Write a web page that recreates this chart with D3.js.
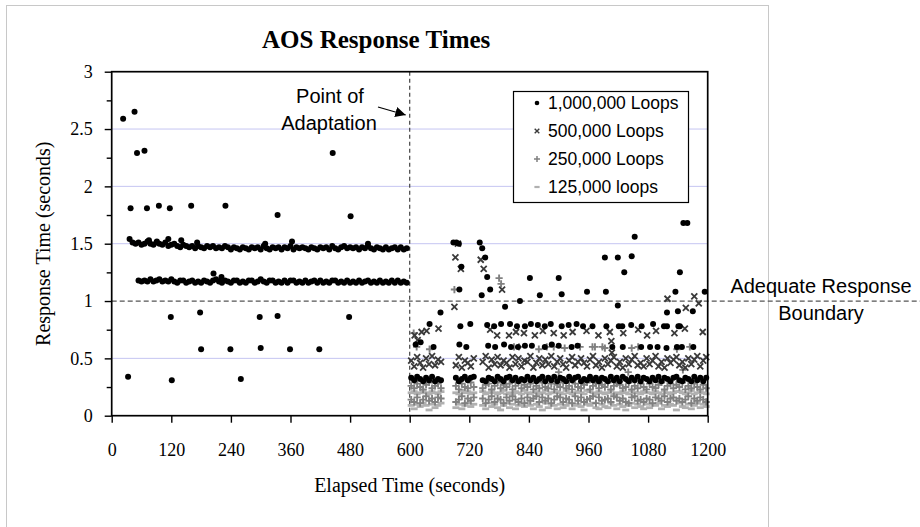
<!DOCTYPE html>
<html>
<head>
<meta charset="utf-8">
<script src="https://cdnjs.cloudflare.com/ajax/libs/d3/7.8.5/d3.min.js"></script>
<style>
  body { margin: 0; background: #fff; }
  .serif { font-family: "Liberation Serif", "Times New Roman", serif; }
  .sans { font-family: "Liberation Sans", Arial, sans-serif; }
</style>
</head>
<body>
<svg id="chart"></svg>
<script>
/** DATA **/
var xTicks = [0, 120, 240, 360, 480, 600, 720, 840, 960, 1080, 1200];
var yTicks = [0, 0.5, 1, 1.5, 2, 2.5, 3];
var yMinorTicks = [0.25, 0.75, 1.25, 1.75, 2.25, 2.75];
var yGrid = [0.5, 1.5, 2, 2.5];
var adaptationTime = 600;
var adequateResponse = 1;
var seriesNames = ["1,000,000 Loops", "500,000 Loops", "250,000 Loops", "125,000 loops"];

// response times were logged every few seconds
var sampleStep = 6;

// 1,000,000 loops before adaptation (two clients)
var loops1mUpperStart = 36;
var loops1mUpper = [
  1.54,1.51,1.50,1.51,1.49,1.50,1.52,1.50,1.49,1.51,
  1.50,1.49,1.51,1.48,1.49,1.50,1.48,1.47,1.49,1.48,
  1.47,1.48,1.46,1.48,1.47,1.46,1.48,1.47,1.48,1.46,
  1.47,1.46,1.48,1.47,1.45,1.47,1.46,1.45,1.47,1.46,
  1.45,1.47,1.46,1.47,1.45,1.48,1.46,1.45,1.47,1.46,
  1.47,1.45,1.47,1.46,1.48,1.45,1.47,1.46,1.47,1.46,
  1.45,1.47,1.46,1.45,1.47,1.46,1.47,1.45,1.48,1.46,
  1.45,1.47,1.48,1.46,1.47,1.46,1.47,1.45,1.47,1.46,
  1.48,1.46,1.45,1.47,1.46,1.45,1.47,1.45,1.46,1.47,
  1.45,1.47,1.45,1.46];
var loops1mLowerStart = 54;
var loops1mLower = [
  1.18,1.17,1.18,1.17,1.19,1.17,1.18,1.19,1.17,1.18,
  1.17,1.19,1.17,1.16,1.18,1.18,1.16,1.17,1.18,1.16,
  1.17,1.16,1.18,1.17,1.16,1.18,1.19,1.17,1.16,1.18,
  1.17,1.16,1.18,1.18,1.16,1.17,1.16,1.18,1.18,1.16,
  1.17,1.19,1.17,1.16,1.18,1.18,1.16,1.17,1.16,1.18,
  1.16,1.18,1.18,1.16,1.17,1.16,1.18,1.16,1.17,1.18,
  1.16,1.18,1.16,1.17,1.16,1.18,1.18,1.16,1.17,1.16,
  1.18,1.16,1.17,1.16,1.18,1.16,1.17,1.18,1.16,1.17,
  1.16,1.18,1.16,1.17,1.16,1.18,1.16,1.18,1.16,1.17,
  1.16];
var loops1mOutliers = [
  [23,2.59],[46,2.65],[51,2.29],[66,2.31],[38,1.81],[71,1.81],[95,1.83],[117,1.81],
  [160,1.83],[229,1.83],[334,1.75],[445,2.29],[481,1.74],
  [119,0.86],[178,0.90],[298,0.86],[334,0.87],[478,0.86],
  [180,0.58],[239,0.58],[300,0.59],[359,0.58],[418,0.58],
  [33,0.34],[121,0.31],[260,0.32],[205,1.24],[221,1.21],
  [75,1.53],[91,1.52],[114,1.54],[140,1.53],[172,1.51],[309,1.50],[363,1.52],[516,1.50]];

// after adaptation: dense bands, sampled from 603 s (null = no sample)
var bandStart = 603;
var loops1mBand = [
  0.33,0.31,0.34,0.32,0.30,0.33,0.31,0.34,0.30,0.32,
  0.31,null,null,null,null,0.33,0.30,0.32,0.34,0.31,
  0.33,0.34,null,null,0.31,0.30,0.33,0.32,0.30,0.34,
  0.32,0.30,0.33,0.34,0.31,0.33,0.30,0.32,0.31,0.34,
  0.31,0.33,0.30,0.32,0.34,0.30,0.33,0.31,0.34,0.30,
  0.33,0.32,0.30,0.34,0.31,0.33,0.34,0.30,0.32,0.31,
  0.34,0.31,0.33,0.30,0.33,0.32,0.30,0.34,0.31,0.33,
  0.30,0.34,0.32,0.30,0.33,0.31,0.34,0.30,0.33,0.32,
  0.30,0.33,0.31,0.34,0.30,0.33,0.32,0.30,0.33,0.34,
  0.31,0.30,0.33,0.32,0.30,0.34,0.31,0.33,0.30,0.33];
var loops500kBand = [
  0.48,0.43,0.51,0.46,0.42,0.50,0.45,0.52,0.44,0.49,
  0.47,null,null,null,null,0.44,0.51,0.42,0.48,0.46,
  0.43,0.50,null,null,0.47,0.52,0.42,0.49,0.45,0.51,
  0.44,0.48,0.46,0.42,0.51,0.45,0.50,0.43,0.48,0.47,
  0.52,0.42,0.46,0.50,0.44,0.49,0.45,0.52,0.43,0.47,
  0.50,0.45,0.42,0.48,0.51,0.44,0.47,0.50,0.46,0.43,
  0.49,0.52,0.44,0.47,0.42,0.50,0.45,0.48,0.51,0.43,
  0.47,0.42,0.50,0.45,0.49,0.52,0.44,0.46,0.43,0.50,
  0.45,0.48,0.52,0.43,0.47,0.42,0.50,0.46,0.49,0.51,
  0.44,0.47,0.42,0.50,0.45,0.49,0.52,0.43,0.48,0.51];
var loops250kBand = [
  0.26,0.24,0.28,0.25,0.23,0.27,0.29,0.24,0.26,0.28,
  0.24,null,null,null,null,0.26,0.23,0.28,0.25,0.24,
  0.29,0.25,null,null,0.24,0.27,0.28,0.23,0.26,0.29,
  0.24,0.27,0.25,0.28,0.23,0.26,0.29,0.24,0.27,0.25,
  0.28,0.23,0.26,0.24,0.29,0.25,0.24,0.28,0.23,0.27,
  0.25,0.29,0.24,0.26,0.23,0.28,0.25,0.24,0.27,0.29,
  0.23,0.26,0.28,0.24,0.27,0.25,0.29,0.23,0.26,0.28,
  0.27,0.24,0.25,0.29,0.23,0.26,0.24,0.28,0.25,0.23,
  0.28,0.25,0.24,0.27,0.29,0.23,0.26,0.28,0.24,0.27,
  0.25,0.29,0.23,0.26,0.24,0.28,0.25,0.23,0.27,0.24];
var loops250kLowBand = [
  0.14,0.12,0.16,0.11,0.14,0.17,0.13,0.15,0.12,0.16,
  0.15,null,null,null,null,0.12,0.14,0.17,0.11,0.15,
  0.13,0.16,null,null,0.15,0.11,0.14,0.17,0.12,0.15,
  0.14,0.11,0.16,0.13,0.17,0.14,0.12,0.15,0.11,0.16,
  0.13,0.15,0.17,0.12,0.16,0.13,0.15,0.11,0.14,0.17,
  0.16,0.12,0.15,0.14,0.11,0.17,0.13,0.16,0.12,0.14,
  0.15,0.17,0.11,0.16,0.13,0.14,0.15,0.12,0.17,0.16,
  0.13,0.15,0.12,0.11,0.16,0.17,0.13,0.14,0.12,0.15,
  0.14,0.11,0.16,0.15,0.13,0.17,0.12,0.15,0.16,0.13,
  0.15,0.12,0.14,0.17,0.11,0.15,0.13,0.16,0.14,0.12];
var loops125kBand = [
  0.20,0.21,0.19,0.20,0.22,0.20,0.19,0.21,0.20,0.19,
  0.21,null,null,null,null,0.20,0.19,0.22,0.20,0.21,
  0.19,0.20,null,null,0.21,0.19,0.20,0.22,0.20,0.19,
  0.20,0.22,0.19,0.20,0.19,0.21,0.20,0.19,0.22,0.20,
  0.19,0.20,0.21,0.19,0.20,0.22,0.19,0.20,0.20,0.21,
  0.20,0.19,0.22,0.20,0.19,0.20,0.21,0.20,0.19,0.22,
  0.21,0.20,0.19,0.21,0.20,0.19,0.20,0.22,0.19,0.20,
  0.19,0.21,0.20,0.19,0.22,0.20,0.20,0.19,0.21,0.20,
  0.20,0.19,0.21,0.20,0.19,0.22,0.20,0.19,0.20,0.21,
  0.21,0.20,0.19,0.20,0.22,0.19,0.20,0.21,0.20,0.19];
var loops125kLowBand = [
  0.09,0.06,0.10,0.08,0.11,0.09,0.05,0.10,0.07,0.09,
  0.11,null,null,null,null,0.07,0.10,0.06,0.09,0.11,
  0.08,0.10,null,null,0.09,0.06,0.11,0.08,0.10,0.07,
  0.05,0.09,0.11,0.07,0.10,0.06,0.09,0.10,0.08,0.11,
  0.09,0.06,0.10,0.08,0.05,0.11,0.07,0.10,0.09,0.06,
  0.10,0.07,0.09,0.11,0.06,0.09,0.10,0.08,0.05,0.10,
  0.09,0.11,0.07,0.06,0.10,0.08,0.07,0.11,0.09,0.06,
  0.10,0.08,0.05,0.09,0.11,0.07,0.10,0.08,0.06,0.10,
  0.07,0.10,0.09,0.11,0.06,0.09,0.08,0.10,0.09,0.05,
  0.11,0.08,0.07,0.10,0.06,0.09,0.11,0.07,0.10,0.08];

// after adaptation: scattered samples [seconds, response]
var loops1mSparse = [
  [612,0.62],[622,0.64],[648,0.60],[700,0.62],[714,0.60],[758,0.61],[772,0.60],[790,0.62],
  [804,0.60],[818,0.60],[832,0.61],[846,0.61],[872,0.60],[886,0.62],[900,0.61],[926,0.60],
  [938,0.61],[1008,0.60],[1029,0.60],[1066,0.60],[1084,0.60],[1099,0.60],
  [1117,0.59],[1138,0.60],[1148,0.60],[1171,0.60],
  [640,0.80],[702,0.78],[722,0.80],[756,0.79],[770,0.78],[784,0.80],[802,0.80],[816,0.78],
  [832,0.78],[844,0.80],[858,0.79],[872,0.78],[884,0.80],[906,0.78],[920,0.79],[936,0.80],
  [949,0.78],[968,0.78],[996,0.78],[1021,0.78],[1028,0.78],[1046,0.79],[1067,0.78],[1090,0.80],
  [1112,0.78],[1118,0.78],[1141,0.78],[1144,0.78],
  [662,0.90],[700,1.10],[745,1.05],[762,1.10],[792,0.95],[822,1.00],[862,1.05],[906,1.06],
  [957,1.08],[995,1.08],[1019,0.96],[1118,0.90],[1135,1.08],[1140,0.91],[1170,0.91],[1194,1.08],
  [688,1.51],[694,1.51],[699,1.50],[741,1.51],[746,1.46],[752,1.38],[704,1.30],[756,1.21],
  [842,1.20],[900,1.20],[993,1.38],[1019,1.38],[1047,1.39],[1032,1.25],[1053,1.56],[1144,1.25],
  [1151,1.68],[1159,1.68]];
var loops500kSparse = [
  [610,0.70],[616,0.66],[624,0.73],[634,0.74],[658,0.76],[692,1.38],[697,1.50],[703,1.28],
  [690,0.95],[743,1.36],[749,1.28],[762,0.75],[776,0.70],[786,1.10],[800,0.70],[814,0.73],
  [830,0.72],[852,0.70],[868,0.74],[890,0.72],[910,0.70],[928,0.73],[956,0.74],[980,0.70],
  [1003,0.73],[1006,0.65],[1007,0.55],[1030,0.72],[1060,0.75],[1078,0.70],[1096,0.74],[1119,1.02],
  [1133,0.72],[1154,0.76],[1156,0.94],[1173,1.04],[1190,0.73],[1182,0.98]];
var loops250kSparse = [
  [608,0.72],[614,0.60],[640,0.58],[690,1.10],[780,1.20],[784,1.15],[810,0.60],[820,0.60],
  [860,0.58],[876,0.60],[890,0.60],[912,0.59],[943,0.60],[968,0.60],[973,0.60],[988,0.60],
  [993,0.59],[1047,0.59],[1060,0.60],[1138,0.58],[1164,0.60],[1150,0.40],[1040,0.38],[900,0.38]];

/** CANVAS **/
var width = 920, height = 527;
var margin = {top: 71.7, right: 212.3, bottom: 111.3, left: 111.7};
var plotW = width - margin.left - margin.right,
    plotH = height - margin.top - margin.bottom;

var svg = d3.select("#chart").attr("width", width).attr("height", height);

var x = d3.scaleLinear().domain([0, 1200]).range([margin.left, margin.left + plotW]);
var y = d3.scaleLinear().domain([0, 3]).range([margin.top + plotH, margin.top]);

// outer chart frame
svg.append("rect")
  .attr("x", 6.5).attr("y", 5.5).attr("width", 762).attr("height", 600)
  .attr("fill", "#fff").attr("stroke", "#c8c8c8");

// gridlines
svg.selectAll(".grid").data(yGrid).enter().append("line")
  .attr("x1", x(0)).attr("x2", x(1200))
  .attr("y1", function(d) { return y(d); }).attr("y2", function(d) { return y(d); })
  .attr("stroke", "#c6c6f2").attr("stroke-width", 1);

// helpers
function expand(start, values) {
  var out = [];
  values.forEach(function(v, i) {
    if (v !== null) out.push([start + i * sampleStep, v]);
  });
  return out;
}
function drawDots(data, color, r) {
  svg.append("g").selectAll("circle").data(data).enter().append("circle")
    .attr("cx", function(d) { return x(d[0]); })
    .attr("cy", function(d) { return y(d[1]); })
    .attr("r", r).attr("fill", color);
}
function drawPath(data, color, pathFn, sw) {
  svg.append("g").selectAll("path").data(data).enter().append("path")
    .attr("d", function(d) { return pathFn(x(d[0]), y(d[1])); })
    .attr("stroke", color).attr("stroke-width", sw).attr("fill", "none");
}
function crossX(cx, cy, s) { s = s || 3;
  return "M" + (cx - s) + "," + (cy - s) + "L" + (cx + s) + "," + (cy + s) +
         "M" + (cx - s) + "," + (cy + s) + "L" + (cx + s) + "," + (cy - s); }
function plus(cx, cy, s) { s = s || 3.6;
  return "M" + (cx - s) + "," + cy + "L" + (cx + s) + "," + cy +
         "M" + cx + "," + (cy - s) + "L" + cx + "," + (cy + s); }
function dash(cx, cy, s) { s = s || 3.5;
  return "M" + (cx - s) + "," + cy + "L" + (cx + s) + "," + cy; }

var c1m = "#000", c500k = "#3a3a3a", c250k = "#808080", c125k = "#b0b0b0";

// adequate response boundary + point of adaptation
svg.append("line")
  .attr("x1", x(0)).attr("x2", width)
  .attr("y1", y(adequateResponse)).attr("y2", y(adequateResponse))
  .attr("stroke", "#555").attr("stroke-width", 1.2).attr("stroke-dasharray", "5,3");
svg.append("line")
  .attr("x1", x(adaptationTime)).attr("x2", x(adaptationTime))
  .attr("y1", y(3)).attr("y2", y(0))
  .attr("stroke", "#444").attr("stroke-width", 1.2).attr("stroke-dasharray", "4,3");

// series (lightest first)
drawPath(expand(bandStart, loops125kLowBand), c125k, function(a, b) { return dash(a, b); }, 2.8);
drawPath(expand(bandStart, loops125kBand), c125k, function(a, b) { return dash(a, b); }, 2.8);
drawPath(expand(bandStart, loops250kLowBand), c250k, function(a, b) { return plus(a, b); }, 1.9);
drawPath(expand(bandStart, loops250kBand), c250k, function(a, b) { return plus(a, b); }, 1.9);
drawPath(loops250kSparse, c250k, function(a, b) { return plus(a, b); }, 1.9);
drawPath(expand(bandStart, loops500kBand), c500k, function(a, b) { return crossX(a, b); }, 1.8);
drawPath(loops500kSparse, c500k, function(a, b) { return crossX(a, b); }, 1.8);
drawDots(expand(bandStart, loops1mBand), c1m, 3);
drawDots(loops1mSparse, c1m, 3);
drawDots(expand(loops1mUpperStart, loops1mUpper), c1m, 3);
drawDots(expand(loops1mLowerStart, loops1mLower), c1m, 3);
drawDots(loops1mOutliers, c1m, 3);

// plot border
svg.append("rect")
  .attr("x", x(0)).attr("y", y(3)).attr("width", plotW).attr("height", plotH)
  .attr("fill", "none").attr("stroke", "#000").attr("stroke-width", 1.7);

// axes
var yAxis = svg.append("g").attr("class", "serif")
  .attr("transform", "translate(" + x(0) + ",0)")
  .call(d3.axisLeft(y).tickValues(yTicks).tickSize(7).tickPadding(12)
    .tickFormat(function(d) { return d; }));
var yMinor = svg.append("g")
  .attr("transform", "translate(" + x(0) + ",0)")
  .call(d3.axisLeft(y).tickValues(yMinorTicks).tickSize(5).tickFormat(""));
var xAxis = svg.append("g").attr("class", "serif")
  .attr("transform", "translate(0," + y(0) + ")")
  .call(d3.axisBottom(x).tickValues(xTicks).tickSize(7).tickPadding(21)
    .tickFormat(function(d) { return d; }));
[yAxis, yMinor, xAxis].forEach(function(g) {
  g.select(".domain").remove();
  g.selectAll("line").attr("stroke", "#000").attr("stroke-width", 1.4);
  g.selectAll("text").attr("fill", "#000").style("font-size", "18px")
    .style("font-family", "'Liberation Serif', 'Times New Roman', serif");
});

// titles
svg.append("text").attr("class", "serif")
  .attr("x", 262).attr("y", 48)
  .style("font-size", "25px").style("font-weight", "bold")
  .text("AOS Response Times");
svg.append("text").attr("class", "serif")
  .attr("x", x(600)).attr("y", 492).attr("text-anchor", "middle")
  .style("font-size", "20px").text("Elapsed Time (seconds)");
svg.append("text").attr("class", "serif")
  .attr("transform", "translate(50," + (y(1.5)) + ") rotate(-90)")
  .attr("text-anchor", "middle")
  .style("font-size", "20px").text("Response Time (seconds)");

// annotations
svg.append("text").attr("class", "sans").attr("text-anchor", "middle")
  .attr("x", 330).attr("y", 103).style("font-size", "20px").text("Point of");
svg.append("text").attr("class", "sans").attr("text-anchor", "middle")
  .attr("x", 329).attr("y", 130).style("font-size", "20px").text("Adaptation");
svg.append("defs").append("marker")
  .attr("id", "arrow").attr("viewBox", "0 0 10 10").attr("refX", 10).attr("refY", 5)
  .attr("markerWidth", 8).attr("markerHeight", 8).attr("orient", "auto")
  .append("path").attr("d", "M0,0L10,5L0,10z").attr("fill", "#000");
svg.append("line")
  .attr("x1", 378).attr("y1", 107).attr("x2", x(adaptationTime) - 4).attr("y2", 115)
  .attr("stroke", "#000").attr("stroke-width", 1.3).attr("marker-end", "url(#arrow)");
svg.append("text").attr("class", "sans").attr("text-anchor", "middle")
  .attr("x", 821).attr("y", 293).style("font-size", "20px").text("Adequate Response");
svg.append("text").attr("class", "sans").attr("text-anchor", "middle")
  .attr("x", 821).attr("y", 320).style("font-size", "20px").text("Boundary");

// legend
var legend = svg.append("g").attr("transform", "translate(513,91)");
legend.append("rect").attr("x", 0.5).attr("y", 0.5).attr("width", 175).attr("height", 111)
  .attr("fill", "#fff").attr("stroke", "#000").attr("stroke-width", 1.2);
var legendMarks = [
  function(g, cy) { g.append("circle").attr("cx", 24).attr("cy", cy).attr("r", 2.3).attr("fill", c1m); },
  function(g, cy) { g.append("path").attr("d", crossX(24, cy, 2.3)).attr("stroke", c500k).attr("stroke-width", 1.4); },
  function(g, cy) { g.append("path").attr("d", plus(24, cy, 3)).attr("stroke", c250k).attr("stroke-width", 1.5); },
  function(g, cy) { g.append("path").attr("d", dash(24, cy, 2.6)).attr("stroke", c125k).attr("stroke-width", 2.2); }
];
seriesNames.forEach(function(name, i) {
  var cy = 12 + i * 28;
  legendMarks[i](legend, cy);
  legend.append("text").attr("class", "sans")
    .attr("x", 35).attr("y", cy).attr("dy", "0.36em")
    .style("font-size", "17.5px").text(name);
});
</script>
</body>
</html>
